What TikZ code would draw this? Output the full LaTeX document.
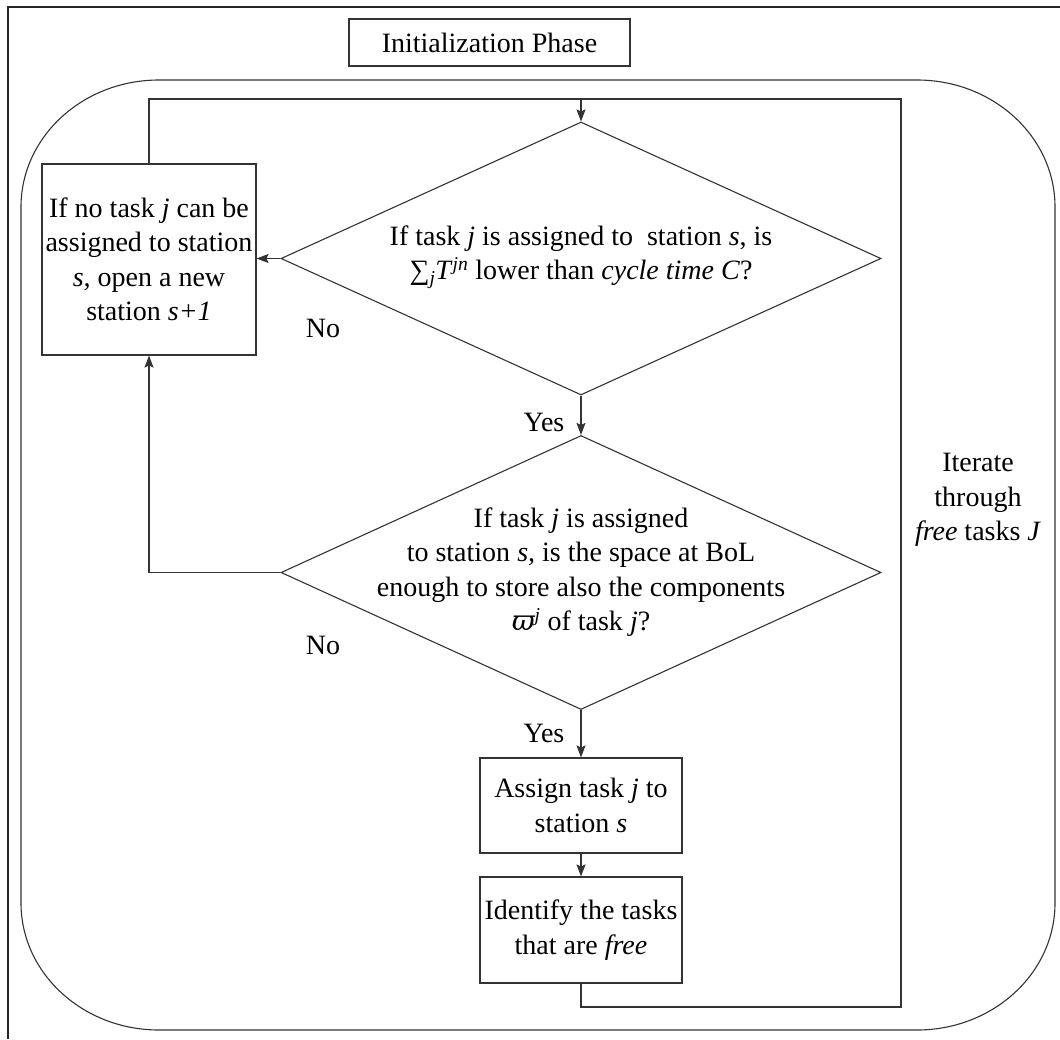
\documentclass[tikz,border=0pt]{standalone}
\usepackage{fontspec}
\setmainfont{Liberation Serif}
\newfontfamily\greekfont{DejaVu Serif}
\usetikzlibrary{shapes.geometric,arrows.meta}

\tikzset{
  lbl/.style={font=\fontsize{28}{34.5}\selectfont, align=center, inner sep=0pt},
  stepbox/.style={lbl, draw=black!80, line width=1.1pt, fill=white},
  decision/.style={diamond, draw=black!80, line width=1.1pt, inner sep=0pt},
  flow/.style={draw=black!80, line width=1.1pt},
  arr/.style={flow, -{Stealth[length=12pt,width=9pt,inset=2pt]}},
}

\begin{document}
\begin{tikzpicture}[x=1pt, y=-1pt]
  \useasboundingbox (0,0) rectangle (1060,1039);

  % outer frame edges
  \draw[black!85, line width=1.1pt] (8,1039) -- (8,7) -- (1060,7);

  % rounded enclosure with elliptical corners
  \draw[black!80, line width=1.1pt]
    (159,80) -- (917,80)
    arc[start angle=-90, end angle=0, x radius=138, y radius=127]
    -- (1055,903)
    arc[start angle=0, end angle=90, x radius=138, y radius=127]
    -- (159,1030)
    arc[start angle=90, end angle=180, x radius=138, y radius=127]
    -- (21,207)
    arc[start angle=180, end angle=270, x radius=138, y radius=127]
    -- cycle;

  % header
  \node[stepbox, minimum width=281, minimum height=47] (init) at (489.5,42.5) {Initialization Phase};

  % decisions
  \node[decision, minimum width=600, minimum height=273] (d1) at (581,258.5) {};
  \node[lbl] (d1txt) at (581,257) {If task \textit{j} is assigned to \ station \textit{s}, is\\
    ∑\textsubscript{\textit{j}}\textit{T}\textsuperscript{\textit{jn}} lower than \textit{cycle time C}?};

  \node[decision, minimum width=600, minimum height=274] (d2) at (581,572.5) {};
  \node[lbl] (d2txt) at (581,572) {If task \textit{j} is assigned\\
    to station \textit{s,} is the space at BoL\\
    enough to store also the components\\
    {\greekfont\itshape ϖ}\textsuperscript{\textit{j}} of task \textit{j}?};

  % process boxes
  \node[stepbox, minimum width=214, minimum height=191] (newst) at (149,259.5)
    {If no task \textit{j} can be\\ assigned to station\\ \textit{s,} open a new\\ station \textit{s+1}};
  \node[stepbox, minimum width=202, minimum height=95] (assign) at (581,805.5)
    {Assign task \textit{j} to\\ station \textit{s}};
  \node[stepbox, minimum width=202, minimum height=106] (ident) at (581,930)
    {Identify the tasks\\ that are \textit{free}};

  % loop corners
  \coordinate (top) at (581,99);
  \coordinate (loopbr) at (901,1007);

  % connectors
  \draw[arr] (top) -- (d1.north);
  \draw[arr] (d1.south) -- (d2.north);
  \draw[arr] (d2.south) -- (assign.north);
  \draw[arr] (assign.south) -- (ident.north);
  \draw[arr] (d1.west) -- (d1.west -| newst.east);
  \draw[arr] (d2.west) -- (d2.west -| newst.south) -- (newst.south);
  \draw[flow] (newst.north) |- (top);
  \draw[flow] (ident.south) |- (loopbr) |- (top);

  % branch labels
  \node[lbl] (no1) at (323,328) {No};
  \node[lbl] (no2) at (323,645) {No};
  \node[lbl] (yes1) at (544,422) {Yes};
  \node[lbl] (yes2) at (544,733) {Yes};
  \node[lbl] (iter) at (978,500) {Iterate\\ through\\ \textit{free} tasks \textit{J}};
\end{tikzpicture}
\end{document}
